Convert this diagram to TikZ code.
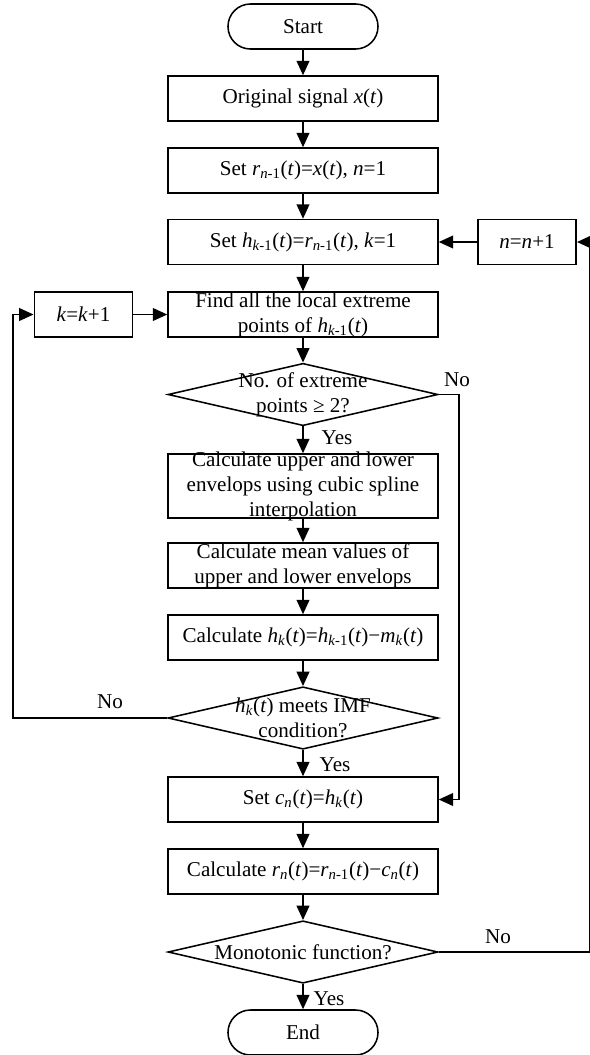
\documentclass[tikz,border=0pt]{standalone}
\usepackage{fontspec}
\setmainfont{Liberation Serif}
\usepackage{tikz}
\usetikzlibrary{arrows.meta,positioning,shapes.geometric}
\newcommand{\sig}[2]{\textit{#1}\textsubscript{#2}(\textit{t})}
\tikzset{
  terminal/.style={
    rectangle,
    rounded corners=5.6mm,
    draw=black,
    line width=1.1pt,
    minimum width=37.5mm,
    minimum height=11.25mm,
    inner sep=0pt,
    align=center,
    font=\fontsize{15}{17.8}\selectfont
  },
  stepbox/.style={
    rectangle,
    draw=black,
    line width=1.1pt,
    minimum width=67.5mm,
    minimum height=11.25mm,
    inner sep=0pt,
    align=center,
    font=\fontsize{15}{17.8}\selectfont
  },
  smallbox/.style={
    stepbox,
    minimum width=24.6mm
  },
  decision/.style={
    diamond,
    draw=black,
    line width=1.1pt,
    minimum width=67.5mm,
    minimum height=15.6mm,
    inner sep=0pt
  },
  dtext/.style={
    align=center,
    inner sep=0pt,
    font=\fontsize{15}{17.8}\selectfont
  },
  tag/.style={
    inner sep=0pt,
    font=\fontsize{15}{17.8}\selectfont
  },
  arrow/.style={
    -{Triangle[length=3.6mm,width=3.2mm]},
    line width=1.1pt,
    draw=black
  }
}
\begin{document}
\begin{tikzpicture}
  \useasboundingbox (0,0) rectangle (14.75,-26.375);
  % main column
  \node[terminal] (start) at (7.575,-0.6625) {Start};
  \node[stepbox] (signal) at (7.575,-2.4625) {Original signal \textit{x}(\textit{t})};
  \node[stepbox] (setr) at (7.575,-4.2625) {Set \sig{r}{\textit{n}-1}=\textit{x}(\textit{t}), \textit{n}=1};
  \node[stepbox] (seth) at (7.575,-6.05) {Set \sig{h}{\textit{k}-1}=\sig{r}{\textit{n}-1}, \textit{k}=1};
  \node[stepbox] (extrema) at (7.575,-7.8625) {Find all the local extreme\\points of \sig{h}{\textit{k}-1}};
  \node[decision,label={[dtext]center:No. of extreme\\points ≥ 2?}] (count) at (7.575,-9.8625) {};
  \node[stepbox,minimum height=16mm,inner ysep=-0.7mm] (envelope) at (7.575,-12.15) {Calculate upper and lower\\envelops using cubic spline\\interpolation};
  \node[stepbox] (mean) at (7.575,-14.1375) {Calculate mean values of\\upper and lower envelops};
  \node[stepbox] (sift) at (7.575,-15.9375) {Calculate \sig{h}{\textit{k}}=\sig{h}{\textit{k}-1}−\sig{m}{\textit{k}}};
  \node[decision,label={[dtext]center:\sig{h}{\textit{k}} meets IMF\\condition?}] (imf) at (7.575,-17.95) {};
  \node[stepbox] (setc) at (7.575,-19.9875) {Set \sig{c}{\textit{n}}=\sig{h}{\textit{k}}};
  \node[stepbox] (residue) at (7.575,-21.7875) {Calculate \sig{r}{\textit{n}}=\sig{r}{\textit{n}-1}−\sig{c}{\textit{n}}};
  \node[decision,label={[dtext]center:Monotonic function?}] (mono) at (7.575,-23.8) {};
  \node[terminal] (end) at (7.575,-25.8125) {End};

  % counters
  \node[smallbox] (ninc) at (13.175,-6.05) {\textit{n}=\textit{n}+1};
  \node[smallbox] (kinc) at (2.0875,-7.8625) {\textit{k}=\textit{k}+1};

  % loop corners
  \coordinate (cloop) at (11.475,-9.8625);
  \coordinate (kloop) at (0.325,-17.95);
  \coordinate (nloop) at (14.74,-23.8);

  % branch labels
  \node[tag] (countno) at (11.425,-9.5) {No};
  \node[tag] (countyes) at (8.425,-10.93) {Yes};
  \node[tag] (imfno) at (2.75,-17.55) {No};
  \node[tag] (imfyes) at (8.375,-19.125) {Yes};
  \node[tag] (monono) at (12.45,-23.425) {No};
  \node[tag] (monoyes) at (8.225,-24.975) {Yes};

  \draw[arrow] (start) -- (signal);
  \draw[arrow] (signal) -- (setr);
  \draw[arrow] (setr) -- (seth);
  \draw[arrow] (seth) -- (extrema);
  \draw[arrow] (extrema) -- (count.north);
  \draw[arrow] (count.south) -- (envelope);
  \draw[arrow] (envelope) -- (mean);
  \draw[arrow] (mean) -- (sift);
  \draw[arrow] (sift) -- (imf.north);
  \draw[arrow] (imf.south) -- (setc);
  \draw[arrow] (setc) -- (residue);
  \draw[arrow] (residue) -- (mono.north);
  \draw[arrow] (mono.south) -- (end);
  \draw[arrow] (ninc) -- (seth);
  \draw[arrow] (kinc) -- (extrema);
  \draw[arrow] (count.east) -- (cloop) |- (setc.east);
  \draw[arrow] (imf.west) -- (kloop) |- (kinc.west);
  \draw[arrow] (mono.east) -- (nloop) |- (ninc.east);
\end{tikzpicture}
\end{document}
